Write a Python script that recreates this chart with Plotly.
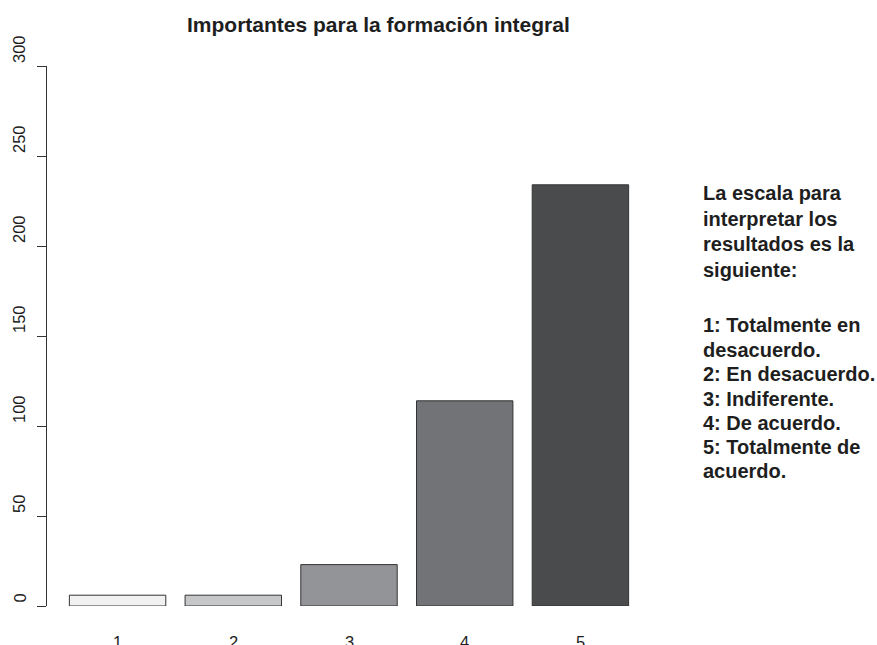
import plotly.graph_objects as go

# ---- data ----
categories = ["1", "2", "3", "4", "5"]
counts = [6, 6, 23, 114, 234]
bar_colors = ["#f1f1f2", "#c6c7c8", "#939497", "#727376", "#4a4b4d"]
y_ticks = [0, 50, 100, 150, 200, 250, 300]
title_text = "Importantes para la formación integral"
legend_lines = [
    "La escala para",
    "interpretar los",
    "resultados es la",
    "siguiente:",
    "1: Totalmente en",
    "desacuerdo.",
    "2: En desacuerdo.",
    "3: Indiferente.",
    "4: De acuerdo.",
    "5: Totalmente de",
    "acuerdo.",
]

# ---- layout constants (pixels, in page coordinates) ----
W, H = 877, 645
ML, MR, MT, MB = 47, 226, 66, 39   # plot area in page pixels
legend_line_y = [193, 218.7, 243.7, 269.7, 325.3, 350.3, 374.3, 398.7, 423, 447, 471.3]
FONT = "Liberation Sans"
TXT = "#1e1e1e"

space, width = 0.2, 1.0
x_pos = [space + i * (width + space) + width / 2 for i in range(len(categories))]
x_lo, x_hi = space, len(categories) * (width + space)
pad = 0.04 * (x_hi - x_lo)

fig = go.Figure(
    go.Bar(
        x=x_pos,
        y=counts,
        width=width,
        marker=dict(color=bar_colors, line=dict(color="#333333", width=1)),
        hoverinfo="skip",
    )
)

plot_w = W - ML - MR

annotations = []
# y tick labels (rotated, R style)
for v in y_ticks:
    annotations.append(dict(
        xref="paper", yref="y", x=0, y=v, xshift=-28, yshift=1,
        xanchor="center", yanchor="bottom", textangle=-90,
        text=str(v), showarrow=False,
        font=dict(family=FONT, size=16.5, color=TXT),
    ))
# x category labels
for xp, c in zip(x_pos, categories):
    annotations.append(dict(
        xref="x", yref="y", x=xp, y=0, yshift=-25,
        xanchor="center", yanchor="top",
        text=c, showarrow=False,
        font=dict(family=FONT, size=16.5, color=TXT),
    ))
# title
annotations.append(dict(
    xref="paper", yref="paper", x=(378.7 - ML) / plot_w, y=1,
    yshift=MT - 24.5, xanchor="center", yanchor="middle",
    text="<b>" + title_text + "</b>", showarrow=False,
    font=dict(family=FONT, size=21, color=TXT),
))
# right side text
for line, py in zip(legend_lines, legend_line_y):
    annotations.append(dict(
        xref="paper", yref="paper", x=1, y=1,
        xshift=702 - (W - MR) - 1, yshift=MT - py,
        xanchor="left", yanchor="middle",
        text="<b>" + line + "</b>", showarrow=False,
        font=dict(family=FONT, size=20, color=TXT),
    ))

fig.update_layout(
    width=W, height=H,
    margin=dict(l=ML, r=MR, t=MT, b=MB, pad=0),
    paper_bgcolor="white", plot_bgcolor="white",
    showlegend=False,
    font=dict(family=FONT),
    xaxis=dict(range=[x_lo - pad, x_hi + pad], visible=False, fixedrange=True),
    yaxis=dict(
        range=[y_ticks[0], y_ticks[-1]],
        tickvals=y_ticks, showticklabels=False,
        ticks="outside", ticklen=9, tickwidth=1, tickcolor="#333333",
        showline=True, linecolor="#333333", linewidth=1,
        showgrid=False, zeroline=False, fixedrange=True,
    ),
    annotations=annotations,
)

fig.write_html(
    "out.html",
    config={"displayModeBar": False},
    post_script="document.body.style.margin='0';document.body.style.overflow='hidden';",
)
